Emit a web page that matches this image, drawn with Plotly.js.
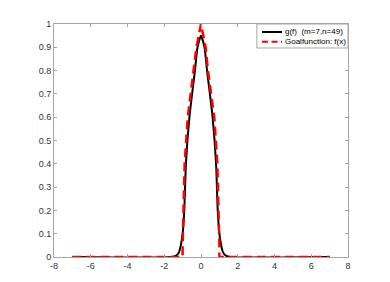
<!DOCTYPE html>
<html>
<head>
<meta charset="utf-8">
<script src="https://cdn.plot.ly/plotly-3.0.1.min.js"></script>
<style>html,body{margin:0;padding:0;background:#fff;}#chart{width:390px;height:282px;}</style>
</head>
<body>
<div id="chart"></div>
<script>
// g(f) approximation (black solid)
const gX = [-7, -1.6, -1.35, -1.2, -1.1, -1.0, -0.91, -0.82, -0.63, -0.33, -0.19, 0, 0.19, 0.33, 0.63, 0.82, 0.91, 1.0, 1.1, 1.2, 1.35, 1.6, 7];
const gY = [0, 0, 0.006, 0.02, 0.05, 0.1, 0.2, 0.4, 0.6, 0.8, 0.9, 0.95, 0.9, 0.8, 0.6, 0.4, 0.2, 0.1, 0.05, 0.02, 0.006, 0, 0];
// goal function f(x) (red dashed)
const fX = [-7, -1, -1, -0.97, -0.89, -0.72, -0.38, -0.25, 0, 0.25, 0.38, 0.72, 0.89, 0.97, 1, 1, 7];
const fY = [0, 0, 0.05, 0.2, 0.4, 0.6, 0.8, 0.9, 1.0, 0.9, 0.8, 0.6, 0.4, 0.2, 0.05, 0, 0];
const xTicks = [-8, -6, -4, -2, 0, 2, 4, 6, 8];
const yTicks = [0, 0.1, 0.2, 0.3, 0.4, 0.5, 0.6, 0.7, 0.8, 0.9, 1];
const seriesNames = ['g(f)  (m=7,n=49)', 'Goalfunction: f(x)'];

const FONT = 'Liberation Sans, Arial, sans-serif';
const gLine = {color: '#000000', width: 2};
const fLine = {color: '#ff0000', width: 2.5, dash: '9px,5px'};

const traces = [
  {x: gX, y: gY, type: 'scatter', mode: 'lines', name: seriesNames[0],
   line: Object.assign({shape: 'spline', smoothing: 0.6}, gLine)},
  {x: fX, y: fY, type: 'scatter', mode: 'lines', name: seriesNames[1], line: fLine}
];

// compact MATLAB-style legend (paper coordinates)
const lgX0 = 0.69, lgX1 = 1.0, lgY0 = 0.897, lgY1 = 1.0;
const smpX0 = 0.7075, smpX1 = 0.7755, txtX = 0.778;
const rowY = [0.9657, 0.924];
const shapes = [
  {type: 'rect', xref: 'paper', yref: 'paper', x0: lgX0, x1: lgX1, y0: lgY0, y1: lgY1,
   line: {color: '#a6a6a6', width: 1}, fillcolor: '#ffffff', layer: 'above'},
  {type: 'line', xref: 'paper', yref: 'paper', x0: smpX0, x1: smpX1, y0: rowY[0], y1: rowY[0],
   line: {color: gLine.color, width: 2}, layer: 'above'},
  {type: 'line', xref: 'paper', yref: 'paper', x0: smpX0, x1: smpX1, y0: rowY[1], y1: rowY[1],
   line: {color: fLine.color, width: 2, dash: '6px,3.5px'}, layer: 'above'}
];
const annotations = seriesNames.map((n, i) => ({
  xref: 'paper', yref: 'paper', x: txtX, y: rowY[i], xanchor: 'left', yanchor: 'middle',
  text: n, showarrow: false, font: {family: FONT, size: 8, color: '#000000'}
}));

const axisCommon = {
  showgrid: false, zeroline: false, showline: true, linecolor: '#a6a6a6', linewidth: 1,
  mirror: 'ticks', ticks: 'inside', ticklen: 3, tickcolor: '#a6a6a6',
  tickfont: {family: FONT, size: 9, color: '#333333'}
};
const layout = {
  width: 390, height: 282,
  margin: {l: 54, r: 42, t: 24, b: 25},
  paper_bgcolor: '#ffffff', plot_bgcolor: '#ffffff',
  showlegend: false,
  shapes: shapes, annotations: annotations,
  xaxis: Object.assign({}, axisCommon, {range: [-8, 8], tickvals: xTicks, ticktext: xTicks.map(String)}),
  yaxis: Object.assign({}, axisCommon, {range: [0, 1], tickvals: yTicks, ticktext: yTicks.map(String)})
};
Plotly.newPlot('chart', traces, layout, {displayModeBar: false, staticPlot: true});
</script>
</body>
</html>
